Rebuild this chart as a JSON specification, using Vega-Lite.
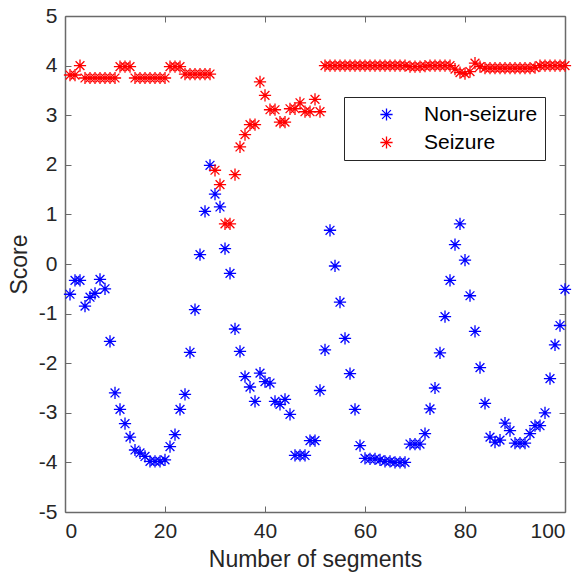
{
  "$schema": "https://vega.github.io/schema/vega-lite/v6.json",
  "autosize": {"type": "none"},
  "padding": {"left": 65, "top": 16, "right": 18, "bottom": 64},
  "width": 500,
  "height": 496,
  "background": "white",
  "config": {
    "font": "Liberation Sans",
    "view": {"stroke": null},
    "axis": {
      "domainColor": "#6a6a6a",
      "domainWidth": 1.5,
      "tickColor": "#6a6a6a",
      "tickWidth": 1,
      "tickSize": -6,
      "grid": false,
      "labelColor": "#262626",
      "labelFontSize": 21,
      "labelFont": "Liberation Sans",
      "labelExpr": "replace(datum.label, '\u2212', '-')",
      "titleColor": "#262626",
      "titleFontSize": 23,
      "titleFontWeight": "normal",
      "titleFont": "Liberation Sans"
    }
  },
  "data": {
    "values": [
      {"seg": 1, "Non-seizure": -0.61, "Seizure": 3.81},
      {"seg": 2, "Non-seizure": -0.33, "Seizure": 3.81},
      {"seg": 3, "Non-seizure": -0.33, "Seizure": 4.0},
      {"seg": 4, "Non-seizure": -0.85, "Seizure": 3.75},
      {"seg": 5, "Non-seizure": -0.67, "Seizure": 3.75},
      {"seg": 6, "Non-seizure": -0.59, "Seizure": 3.75},
      {"seg": 7, "Non-seizure": -0.31, "Seizure": 3.75},
      {"seg": 8, "Non-seizure": -0.5, "Seizure": 3.75},
      {"seg": 9, "Non-seizure": -1.56, "Seizure": 3.75},
      {"seg": 10, "Non-seizure": -2.6, "Seizure": 3.75},
      {"seg": 11, "Non-seizure": -2.93, "Seizure": 3.98},
      {"seg": 12, "Non-seizure": -3.22, "Seizure": 3.98},
      {"seg": 13, "Non-seizure": -3.49, "Seizure": 3.98},
      {"seg": 14, "Non-seizure": -3.75, "Seizure": 3.75},
      {"seg": 15, "Non-seizure": -3.81, "Seizure": 3.75},
      {"seg": 16, "Non-seizure": -3.88, "Seizure": 3.75},
      {"seg": 17, "Non-seizure": -3.98, "Seizure": 3.75},
      {"seg": 18, "Non-seizure": -3.98, "Seizure": 3.75},
      {"seg": 19, "Non-seizure": -3.98, "Seizure": 3.75},
      {"seg": 20, "Non-seizure": -3.95, "Seizure": 3.75},
      {"seg": 21, "Non-seizure": -3.68, "Seizure": 3.98},
      {"seg": 22, "Non-seizure": -3.44, "Seizure": 3.98},
      {"seg": 23, "Non-seizure": -2.93, "Seizure": 3.98},
      {"seg": 24, "Non-seizure": -2.63, "Seizure": 3.83},
      {"seg": 25, "Non-seizure": -1.78, "Seizure": 3.83},
      {"seg": 26, "Non-seizure": -0.92, "Seizure": 3.83},
      {"seg": 27, "Non-seizure": 0.19, "Seizure": 3.83},
      {"seg": 28, "Non-seizure": 1.06, "Seizure": 3.83},
      {"seg": 29, "Non-seizure": 1.99, "Seizure": 3.83},
      {"seg": 30, "Non-seizure": 1.41, "Seizure": 1.89},
      {"seg": 31, "Non-seizure": 1.15, "Seizure": 1.6},
      {"seg": 32, "Non-seizure": 0.31, "Seizure": 0.81},
      {"seg": 33, "Non-seizure": -0.19, "Seizure": 0.81},
      {"seg": 34, "Non-seizure": -1.31, "Seizure": 1.8},
      {"seg": 35, "Non-seizure": -1.76, "Seizure": 2.36},
      {"seg": 36, "Non-seizure": -2.27, "Seizure": 2.61},
      {"seg": 37, "Non-seizure": -2.48, "Seizure": 2.81},
      {"seg": 38, "Non-seizure": -2.77, "Seizure": 2.81},
      {"seg": 39, "Non-seizure": -2.2, "Seizure": 3.67},
      {"seg": 40, "Non-seizure": -2.37, "Seizure": 3.4},
      {"seg": 41, "Non-seizure": -2.4, "Seizure": 3.11},
      {"seg": 42, "Non-seizure": -2.77, "Seizure": 3.11},
      {"seg": 43, "Non-seizure": -2.83, "Seizure": 2.86},
      {"seg": 44, "Non-seizure": -2.73, "Seizure": 2.86},
      {"seg": 45, "Non-seizure": -3.03, "Seizure": 3.13},
      {"seg": 46, "Non-seizure": -3.86, "Seizure": 3.13},
      {"seg": 47, "Non-seizure": -3.86, "Seizure": 3.25},
      {"seg": 48, "Non-seizure": -3.86, "Seizure": 3.07},
      {"seg": 49, "Non-seizure": -3.56, "Seizure": 3.07},
      {"seg": 50, "Non-seizure": -3.56, "Seizure": 3.32},
      {"seg": 51, "Non-seizure": -2.55, "Seizure": 3.07},
      {"seg": 52, "Non-seizure": -1.73, "Seizure": 4.0},
      {"seg": 53, "Non-seizure": 0.68, "Seizure": 4.0},
      {"seg": 54, "Non-seizure": -0.04, "Seizure": 4.0},
      {"seg": 55, "Non-seizure": -0.77, "Seizure": 4.0},
      {"seg": 56, "Non-seizure": -1.5, "Seizure": 4.0},
      {"seg": 57, "Non-seizure": -2.21, "Seizure": 4.0},
      {"seg": 58, "Non-seizure": -2.93, "Seizure": 4.0},
      {"seg": 59, "Non-seizure": -3.66, "Seizure": 4.0},
      {"seg": 60, "Non-seizure": -3.92, "Seizure": 4.0},
      {"seg": 61, "Non-seizure": -3.93, "Seizure": 4.0},
      {"seg": 62, "Non-seizure": -3.93, "Seizure": 4.0},
      {"seg": 63, "Non-seizure": -3.95, "Seizure": 4.0},
      {"seg": 64, "Non-seizure": -3.98, "Seizure": 4.0},
      {"seg": 65, "Non-seizure": -3.98, "Seizure": 4.0},
      {"seg": 66, "Non-seizure": -4.0, "Seizure": 4.0},
      {"seg": 67, "Non-seizure": -4.0, "Seizure": 4.0},
      {"seg": 68, "Non-seizure": -4.0, "Seizure": 4.0},
      {"seg": 69, "Non-seizure": -3.63, "Seizure": 3.98},
      {"seg": 70, "Non-seizure": -3.63, "Seizure": 3.98},
      {"seg": 71, "Non-seizure": -3.63, "Seizure": 3.98},
      {"seg": 72, "Non-seizure": -3.42, "Seizure": 3.99},
      {"seg": 73, "Non-seizure": -2.92, "Seizure": 4.0},
      {"seg": 74, "Non-seizure": -2.5, "Seizure": 4.0},
      {"seg": 75, "Non-seizure": -1.79, "Seizure": 4.0},
      {"seg": 76, "Non-seizure": -1.06, "Seizure": 4.0},
      {"seg": 77, "Non-seizure": -0.33, "Seizure": 4.0},
      {"seg": 78, "Non-seizure": 0.39, "Seizure": 3.93},
      {"seg": 79, "Non-seizure": 0.81, "Seizure": 3.86},
      {"seg": 80, "Non-seizure": 0.08, "Seizure": 3.84},
      {"seg": 81, "Non-seizure": -0.64, "Seizure": 3.88},
      {"seg": 82, "Non-seizure": -1.36, "Seizure": 4.05},
      {"seg": 83, "Non-seizure": -2.09, "Seizure": 3.98},
      {"seg": 84, "Non-seizure": -2.81, "Seizure": 3.95},
      {"seg": 85, "Non-seizure": -3.49, "Seizure": 3.95},
      {"seg": 86, "Non-seizure": -3.59, "Seizure": 3.95},
      {"seg": 87, "Non-seizure": -3.55, "Seizure": 3.95},
      {"seg": 88, "Non-seizure": -3.21, "Seizure": 3.95},
      {"seg": 89, "Non-seizure": -3.36, "Seizure": 3.95},
      {"seg": 90, "Non-seizure": -3.61, "Seizure": 3.95},
      {"seg": 91, "Non-seizure": -3.61, "Seizure": 3.95},
      {"seg": 92, "Non-seizure": -3.61, "Seizure": 3.95},
      {"seg": 93, "Non-seizure": -3.42, "Seizure": 3.95},
      {"seg": 94, "Non-seizure": -3.26, "Seizure": 3.96},
      {"seg": 95, "Non-seizure": -3.26, "Seizure": 4.0},
      {"seg": 96, "Non-seizure": -3.0, "Seizure": 4.0},
      {"seg": 97, "Non-seizure": -2.31, "Seizure": 4.0},
      {"seg": 98, "Non-seizure": -1.63, "Seizure": 4.0},
      {"seg": 99, "Non-seizure": -1.24, "Seizure": 4.0},
      {"seg": 100, "Non-seizure": -0.51, "Seizure": 4.0}
    ]
  },
  "transform": [{"fold": ["Non-seizure", "Seizure"], "as": ["series", "score"]}],
  "layer": [
    {
      "mark": {
        "type": "point",
        "shape": "M-1,0L1,0M0,-1L0,1M-0.72,-0.72L0.72,0.72M-0.72,0.72L0.72,-0.72",
        "filled": false,
        "size": 150,
        "strokeWidth": 1.3,
        "opacity": 1
      },
      "encoding": {
        "x": {
          "field": "seg", "type": "quantitative",
          "scale": {"domain": [0, 100], "nice": false, "zero": false},
          "axis": {"values": [0, 20, 40, 60, 80, 100], "title": "Number of segments", "labelPadding": 14, "titlePadding": 7}
        },
        "y": {
          "field": "score", "type": "quantitative",
          "scale": {"domain": [-5, 5], "nice": false, "zero": false},
          "axis": {"values": [-5, -4, -3, -2, -1, 0, 1, 2, 3, 4, 5], "title": "Score", "labelPadding": 14, "titlePadding": 7}
        },
        "color": {
          "field": "series", "type": "nominal",
          "scale": {"domain": ["Non-seizure", "Seizure"], "range": ["#0000FF", "#FF0000"]},
          "legend": {
            "title": null,
            "orient": "none",
            "legendX": 279,
            "legendY": 81,
            "direction": "vertical",
            "symbolType": "M-1,0L1,0M0,-1L0,1M-0.72,-0.72L0.72,0.72M-0.72,0.72L0.72,-0.72",
            "symbolSize": 150,
            "symbolStrokeWidth": 1.3,
            "symbolFillColor": "transparent",
            "symbolOffset": 25,
            "labelOffset": 27,
            "labelFontSize": 21,
            "labelColor": "#000000",
            "labelFont": "Liberation Sans",
            "rowPadding": 6,
            "padding": 7,
            "strokeColor": "#262626",
            "fillColor": "white",
            "labelLimit": 300
          }
        },
        "order": {"field": "series", "type": "nominal"}
      }
    },
    {
      "mark": {"type": "point", "opacity": 0},
      "encoding": {
        "x": {
          "field": "seg", "type": "quantitative",
          "axis": {"orient": "top", "values": [0, 20, 40, 60, 80, 100], "labels": false, "title": null}
        },
        "y": {
          "field": "score", "type": "quantitative",
          "axis": {"orient": "right", "values": [-5, -4, -3, -2, -1, 0, 1, 2, 3, 4, 5], "labels": false, "title": null}
        }
      }
    }
  ],
  "resolve": {"axis": {"x": "independent", "y": "independent"}}
}
